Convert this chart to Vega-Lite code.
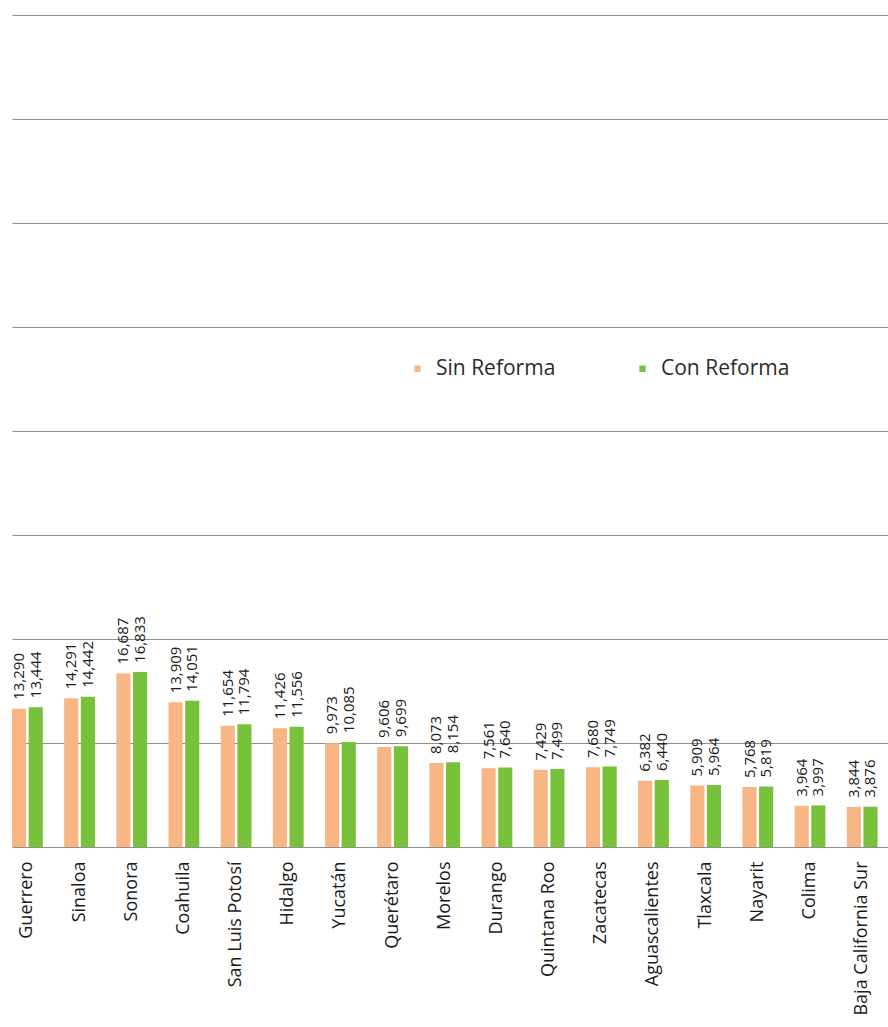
{
  "$schema": "https://vega.github.io/schema/vega-lite/v6.json",
  "width": 876,
  "height": 832,
  "autosize": {"type": "none"},
  "padding": {"left": 12, "top": 15, "right": 0, "bottom": 180},
  "background": "white",
  "config": {
    "view": {"stroke": null},
    "font": "Open Sans"
  },
  "data": {
    "values": [
      {"estado": "Guerrero", "serie": "Sin Reforma", "valor": 13290},
      {"estado": "Guerrero", "serie": "Con Reforma", "valor": 13444},
      {"estado": "Sinaloa", "serie": "Sin Reforma", "valor": 14291},
      {"estado": "Sinaloa", "serie": "Con Reforma", "valor": 14442},
      {"estado": "Sonora", "serie": "Sin Reforma", "valor": 16687},
      {"estado": "Sonora", "serie": "Con Reforma", "valor": 16833},
      {"estado": "Coahuila", "serie": "Sin Reforma", "valor": 13909},
      {"estado": "Coahuila", "serie": "Con Reforma", "valor": 14051},
      {"estado": "San Luis Potosí", "serie": "Sin Reforma", "valor": 11654},
      {"estado": "San Luis Potosí", "serie": "Con Reforma", "valor": 11794},
      {"estado": "Hidalgo", "serie": "Sin Reforma", "valor": 11426},
      {"estado": "Hidalgo", "serie": "Con Reforma", "valor": 11556},
      {"estado": "Yucatán", "serie": "Sin Reforma", "valor": 9973},
      {"estado": "Yucatán", "serie": "Con Reforma", "valor": 10085},
      {"estado": "Querétaro", "serie": "Sin Reforma", "valor": 9606},
      {"estado": "Querétaro", "serie": "Con Reforma", "valor": 9699},
      {"estado": "Morelos", "serie": "Sin Reforma", "valor": 8073},
      {"estado": "Morelos", "serie": "Con Reforma", "valor": 8154},
      {"estado": "Durango", "serie": "Sin Reforma", "valor": 7561},
      {"estado": "Durango", "serie": "Con Reforma", "valor": 7640},
      {"estado": "Quintana Roo", "serie": "Sin Reforma", "valor": 7429},
      {"estado": "Quintana Roo", "serie": "Con Reforma", "valor": 7499},
      {"estado": "Zacatecas", "serie": "Sin Reforma", "valor": 7680},
      {"estado": "Zacatecas", "serie": "Con Reforma", "valor": 7749},
      {"estado": "Aguascalientes", "serie": "Sin Reforma", "valor": 6382},
      {"estado": "Aguascalientes", "serie": "Con Reforma", "valor": 6440},
      {"estado": "Tlaxcala", "serie": "Sin Reforma", "valor": 5909},
      {"estado": "Tlaxcala", "serie": "Con Reforma", "valor": 5964},
      {"estado": "Nayarit", "serie": "Sin Reforma", "valor": 5768},
      {"estado": "Nayarit", "serie": "Con Reforma", "valor": 5819},
      {"estado": "Colima", "serie": "Sin Reforma", "valor": 3964},
      {"estado": "Colima", "serie": "Con Reforma", "valor": 3997},
      {"estado": "Baja California Sur", "serie": "Sin Reforma", "valor": 3844},
      {"estado": "Baja California Sur", "serie": "Con Reforma", "valor": 3876}
    ]
  },
  "encoding": {
    "x": {
      "field": "estado",
      "type": "nominal",
      "sort": null,
      "scale": {"paddingInner": 0.41, "paddingOuter": 0.1, "align": 0},
      "axis": {
        "title": null,
        "labelAngle": -90,
        "labelFontSize": 18,
        "labelColor": "#1a1a1a",
        "labelPadding": 14,
        "domain": false,
        "ticks": false,
        "labelLimit": 300
      }
    },
    "xOffset": {
      "field": "serie",
      "type": "nominal",
      "sort": ["Sin Reforma", "Con Reforma"],
      "scale": {"paddingInner": 0.15}
    },
    "y": {
      "field": "valor",
      "type": "quantitative",
      "scale": {"domain": [0, 80000], "nice": false},
      "axis": {
        "title": null,
        "labels": false,
        "ticks": false,
        "domain": false,
        "values": [0, 10000, 20000, 30000, 40000, 50000, 60000, 70000, 80000],
        "gridColor": "#8f8f8f",
        "gridWidth": 1.2
      }
    }
  },
  "layer": [
    {
      "mark": {"type": "bar"},
      "encoding": {
        "color": {
          "field": "serie",
          "type": "nominal",
          "sort": ["Sin Reforma", "Con Reforma"],
          "scale": {"domain": ["Sin Reforma", "Con Reforma"], "range": ["#f7b683", "#78c13b"]},
          "legend": {
            "title": null,
            "orient": "none",
            "legendX": 395,
            "legendY": 343,
            "direction": "horizontal",
            "symbolType": "square",
            "symbolSize": 40,
            "symbolStrokeWidth": 0,
            "labelFontSize": 21,
            "labelColor": "#2b2b2b",
            "labelOffset": 8,
            "columnPadding": 76,
            "padding": 0
          }
        }
      }
    },
    {
      "mark": {"type": "text", "angle": -90, "align": "left", "baseline": "middle", "dx": 9, "fontSize": 15, "color": "#1a1a1a"},
      "encoding": {
        "text": {"field": "valor", "type": "quantitative", "format": ","}
      }
    }
  ]
}
